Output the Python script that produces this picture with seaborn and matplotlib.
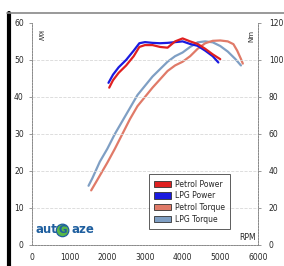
import matplotlib
matplotlib.use("Agg")
import matplotlib.pyplot as plt
import matplotlib.patches as mpatches
from matplotlib.lines import Line2D
import pandas as pd
import seaborn as sns

# Power curves (kW, left axis)
petrol_power_rpm = [2050, 2150, 2300, 2500, 2700, 2850, 3000, 3200, 3400, 3600, 3800, 4000, 4200, 4400, 4600, 4800, 5000]
petrol_power_kw = [42.5, 44.5, 46.5, 48.5, 51.0, 53.5, 54.0, 54.0, 53.5, 53.3, 55.0, 55.8, 55.0, 54.3, 53.0, 51.5, 50.2]
lpg_power_rpm = [2030, 2150, 2300, 2500, 2700, 2850, 3000, 3200, 3400, 3600, 3800, 4000, 4200, 4400, 4600, 4800, 4950]
lpg_power_kw = [43.8, 46.0, 48.0, 50.0, 52.5, 54.5, 54.8, 54.6, 54.5, 54.6, 54.8, 55.0, 54.3, 53.8, 52.5, 51.0, 49.3]

# Torque curves (Nm, right axis)
petrol_torque_rpm = [1570, 1700, 1900, 2000, 2200, 2400, 2600, 2800, 3000, 3200, 3400, 3600, 3800, 4000, 4200, 4400, 4600, 4800, 5000, 5200, 5350, 5450, 5550, 5600]
petrol_torque_nm = [29.5, 34, 41, 44.5, 52, 60, 68, 75, 80, 85, 89.5, 94, 97, 99, 102, 106, 109, 110.3, 110.5, 110, 108.5, 105, 100.5, 98]
lpg_torque_rpm = [1500, 1600, 1800, 2000, 2200, 2400, 2600, 2800, 3000, 3200, 3400, 3600, 3800, 4000, 4200, 4400, 4600, 4800, 5000, 5200, 5400, 5550]
lpg_torque_nm = [32, 36, 45, 52, 60, 67, 74, 81, 86, 91, 95, 99, 102, 104, 107, 109.5, 110, 109.5, 107.5, 104.5, 100.5, 97]

series_names = ["Petrol Power", "LPG Power", "Petrol Torque", "LPG Torque"]
series_colors = ["#e02020", "#1a1ae0", "#e07a68", "#7f9fc4"]

sns.set_style("white")
plt.rcParams["font.family"] = ["DejaVu Sans"]

fig = plt.figure(figsize=(2.84, 2.66), dpi=100)
ax = fig.add_axes([0.113, 0.079, 0.795, 0.835])
ax2 = ax.twinx()

sns.lineplot(x=lpg_torque_rpm, y=lpg_torque_nm, ax=ax2, color=series_colors[3], lw=1.6, sort=False)
sns.lineplot(x=petrol_torque_rpm, y=petrol_torque_nm, ax=ax2, color=series_colors[2], lw=1.6, sort=False)
sns.lineplot(x=lpg_power_rpm, y=lpg_power_kw, ax=ax, color=series_colors[1], lw=1.6, sort=False, zorder=3)
sns.lineplot(x=petrol_power_rpm, y=petrol_power_kw, ax=ax, color=series_colors[0], lw=1.6, sort=False, zorder=4)
ax.set_zorder(ax2.get_zorder() + 1)
ax.patch.set_visible(False)

ax.set_xlim(0, 6000)
ax.set_ylim(0, 60)
ax2.set_ylim(0, 120)
ax.set_xticks(range(0, 6001, 1000))
ax.set_yticks(range(0, 61, 10))
ax2.set_yticks(range(0, 121, 20))
for y in range(10, 60, 10):
    ax.axhline(y, color="#d8d8d8", lw=0.6, ls="--", zorder=0)

for a in (ax, ax2):
    a.tick_params(labelsize=5.5, length=2, width=0.6, color="#888888", pad=4)
    for side in ("left", "right", "bottom"):
        a.spines[side].set_linestyle((0, (2, 1.5)))
        a.spines[side].set_color("#888888")
        a.spines[side].set_linewidth(0.6)
    a.spines["top"].set_visible(False)
ax.tick_params(axis="x", pad=4)
ax2.tick_params(axis="y", pad=6)
ax.set_xlabel("")
ax.set_ylabel("")
ax2.set_ylabel("")

ax.text(0.02, 0.97, "kW", transform=ax.transAxes, rotation=270, fontsize=5, va="top", ha="left")
ax.text(0.985, 0.97, "Nm", transform=ax.transAxes, rotation=90, fontsize=5, va="top", ha="right")
ax.text(0.99, 0.015, "RPM", transform=ax.transAxes, fontsize=5.5, va="bottom", ha="right")

handles = [mpatches.Patch(facecolor=c, edgecolor="#333333", lw=0.6) for c in series_colors]
leg = ax.legend(handles, series_names, loc="lower left", bbox_to_anchor=(0.5, 0.055),
                fontsize=5.5, frameon=True, fancybox=False, handlelength=2.2, handleheight=0.9,
                labelspacing=0.35, borderpad=0.7, handletextpad=0.5)
leg.get_frame().set_edgecolor("#333333")
leg.get_frame().set_linewidth(0.7)

# logo
ax.text(0.015, 0.04, "aut", transform=ax.transAxes, fontsize=8.5, fontweight="bold", color="#1f5f9f", va="bottom", ha="left")
ax.text(0.135, 0.043, "G", transform=ax.transAxes, fontsize=7.5, fontweight="bold", color="#1f5f9f", va="bottom", ha="center",
        bbox=dict(boxstyle="circle,pad=0.12", facecolor="#58b848", edgecolor="#1f5f9f", lw=0.9))
ax.text(0.175, 0.04, "aze", transform=ax.transAxes, fontsize=8.5, fontweight="bold", color="#1f5f9f", va="bottom", ha="left")

# frame decorations
fig.add_artist(Line2D([9 / 284, 9 / 284], [0, 1 - 13 / 266], color="black", lw=3))
fig.add_artist(Line2D([7 / 284, 1], [1 - 13 / 266, 1 - 13 / 266], color="#888888", lw=1.2))

fig.savefig("out.png", dpi=100)
